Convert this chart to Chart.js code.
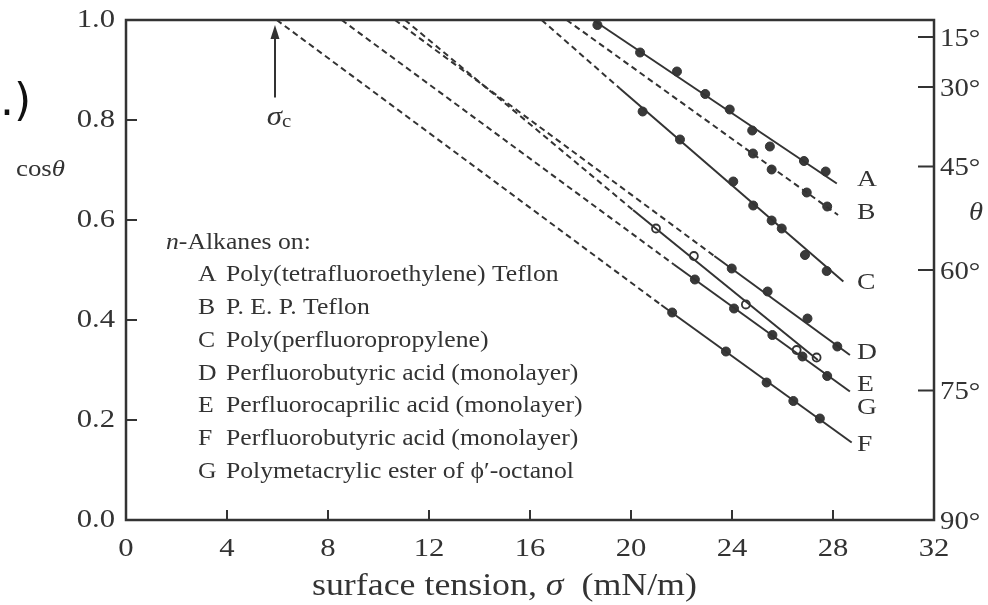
<!DOCTYPE html>
<html><head><meta charset="utf-8">
<script src="https://cdn.jsdelivr.net/npm/chart.js@4.4.1/dist/chart.umd.min.js"></script>
<style>html,body{margin:0;padding:0;background:#fff;overflow:hidden}#wrap{width:988px;height:605px}</style>
</head><body><div id="wrap"><canvas id="c" width="988" height="605"></canvas></div>
<script>
// ---------- data ----------
const sigmaTicks = [0, 4, 8, 12, 16, 20, 24, 28, 32];
const cosTicks = [0.0, 0.2, 0.4, 0.6, 0.8, 1.0];
const thetaTicks = [15, 30, 45, 60, 75, 90];
const seriesLetters = ['A', 'B', 'C', 'D', 'E', 'F', 'G'];
const legendNames = [
  'Poly(tetrafluoroethylene) Teflon',
  'P. E. P. Teflon',
  'Poly(perfluoropropylene)',
  'Perfluorobutyric acid (monolayer)',
  'Perfluorocaprilic acid (monolayer)',
  'Perfluorobutyric acid (monolayer)',
  'Polymetacrylic ester of \u03D5\u2032-octanol'
];
// measured points (surface tension mN/m, cos theta)
const aSigma = [18.67, 20.36, 21.82, 22.94, 23.91, 24.80, 25.50, 26.85, 27.71];
const aCos   = [0.990, 0.935, 0.897, 0.852, 0.821, 0.779, 0.747, 0.718, 0.697];
const bSigma = [24.83, 25.57, 26.96, 27.77];
const bCos   = [0.733, 0.701, 0.655, 0.627];
const cSigma = [20.46, 21.94, 24.05, 24.84, 25.57, 25.97, 26.89, 27.75];
const cCos   = [0.817, 0.761, 0.677, 0.629, 0.599, 0.583, 0.530, 0.498];
const dSigma = [23.99, 25.41, 26.99, 28.17];
const dCos   = [0.503, 0.457, 0.403, 0.347];
const eSigma = [22.53, 24.08, 25.60, 26.79, 27.77];
const eCos   = [0.481, 0.423, 0.370, 0.327, 0.288];
const fSigma = [21.63, 23.76, 25.37, 26.43, 27.48];
const fCos   = [0.415, 0.337, 0.275, 0.238, 0.203];
const gSigma = [20.99, 22.49, 24.55, 26.56, 27.35];
const gCos   = [0.583, 0.528, 0.431, 0.340, 0.325];
// fitted lines: dashed extrapolation to cos=1 (sigma_c), solid part start and end
const lineSigmaC      = [null, 17.45, 16.46, 10.65, 8.54, 5.97, 11.05];
const solidStartSigma = [18.5, null, 19.56, 23.3, 21.7, 21.2, 20.08];
const solidStartCos   = [1.0,  null, 0.863, 0.528, 0.511, 0.43, 0.62];
const lineEndSigma    = [28.15, 28.2, 28.41, 28.67, 28.67, 28.74, 27.4];
const lineEndCos      = [0.673, 0.61, 0.477, 0.33, 0.257, 0.155, 0.32];
const endLabelCos     = [0.68, 0.614, 0.474, 0.334, 0.27, 0.15, 0.224];
const sigmaCArrow = 5.9;

// ---------- build datasets ----------
const INK = '#333';
const pts = [[aSigma,aCos],[bSigma,bCos],[cSigma,cCos],[dSigma,dCos],[eSigma,eCos],[fSigma,fCos],[gSigma,gCos]];
const datasets = [];
for (let i = 0; i < 7; i++) {
  if (lineSigmaC[i] !== null) {
    const ex = solidStartSigma[i] !== null ? solidStartSigma[i] : lineEndSigma[i];
    const ey = solidStartSigma[i] !== null ? solidStartCos[i] : lineEndCos[i];
    datasets.push({type:'scatter', showLine:true, data:[{x:lineSigmaC[i],y:1.0},{x:ex,y:ey}],
      borderColor:INK, borderWidth:2, borderDash:[6,4], pointRadius:0, clip:false});
  }
  if (solidStartSigma[i] !== null) {
    datasets.push({type:'scatter', showLine:true, data:[{x:solidStartSigma[i],y:solidStartCos[i]},{x:lineEndSigma[i],y:lineEndCos[i]}],
      borderColor:INK, borderWidth:2, pointRadius:0, clip:false});
  }
}
for (let i = 0; i < 7; i++) {
  const open = seriesLetters[i] === 'G';
  datasets.push({type:'scatter', data: pts[i][0].map((s,k)=>({x:s,y:pts[i][1][k]})),
    pointRadius: open ? 4 : 4.5, pointBackgroundColor: open ? '#fff' : '#3a3a3a',
    pointBorderColor:'#333', pointBorderWidth: open ? 1.8 : 1, clip:false});
}

// ---------- text helper ----------
const SERIF = '"Liberation Serif", "Times New Roman", serif';
function measure(ctx, s, font, sx){ ctx.save(); ctx.font = font; const w = ctx.measureText(s).width*sx; ctx.restore(); return w; }
function txt(ctx, s, x, y, font, align, sx, color){
  ctx.save(); ctx.font = font; ctx.textBaseline = 'middle'; ctx.textAlign = 'left';
  ctx.fillStyle = color || INK;
  const w = ctx.measureText(s).width*sx;
  const x0 = align === 'center' ? x - w/2 : (align === 'right' ? x - w : x);
  ctx.translate(x0, y); ctx.scale(sx, 1); ctx.fillText(s, 0, 0); ctx.restore();
  return w;
}
function rich(ctx, parts, x, y, align){
  let total = 0; parts.forEach(p => total += measure(ctx, p[0], p[1], p[2]));
  let cx = align === 'center' ? x - total/2 : (align === 'right' ? x - total : x);
  parts.forEach(p => { cx += txt(ctx, p[0], cx, y + (p[3]||0), p[1], 'left', p[2]); });
}

const decor = {
  id:'decor',
  beforeDatasetsDraw(chart){
    const {ctx, chartArea:a, scales} = chart;
    ctx.save();
    ctx.strokeStyle = INK; ctx.lineWidth = 2.5;
    ctx.strokeRect(a.left, a.top, a.right - a.left, a.bottom - a.top);
    ctx.lineWidth = 2;
    ctx.beginPath();
    sigmaTicks.forEach(v => { if (v > 0 && v < 32) { const x = scales.x.getPixelForValue(v); ctx.moveTo(x, a.bottom); ctx.lineTo(x, a.bottom - 10); }});
    cosTicks.forEach(v => { if (v > 0 && v < 1) { const y = scales.y.getPixelForValue(v); ctx.moveTo(a.left, y); ctx.lineTo(a.left + 11, y); }});
    thetaTicks.forEach(d => { if (d < 90) { const y = scales.y2.getPixelForValue(Math.cos(d*Math.PI/180)); ctx.moveTo(a.right, y); ctx.lineTo(a.right - 16, y); }});
    ctx.stroke();
    ctx.restore();
  },
  afterDraw(chart){
    const {ctx, chartArea:a, scales} = chart;
    const num = '26px ' + SERIF;
    sigmaTicks.forEach(v => txt(ctx, String(v), scales.x.getPixelForValue(v), a.bottom + 29, num, 'center', 1.18));
    cosTicks.forEach(v => txt(ctx, v.toFixed(1), a.left - 11, scales.y.getPixelForValue(v), num, 'right', 1.18));
    thetaTicks.forEach(d => txt(ctx, d + '\u00B0', a.right + 6, scales.y2.getPixelForValue(Math.cos(d*Math.PI/180)) + 2, '25px ' + SERIF, 'left', 1.15));
    // axis titles
    rich(ctx, [['surface tension, ', '32px ' + SERIF, 1.12], ['\u03C3', 'italic 32px ' + SERIF, 1.12], ['  (mN/m)', '32px ' + SERIF, 1.12]], 312, a.bottom + 67, 'left');
    rich(ctx, [['cos', '24px ' + SERIF, 1.12], ['\u03B8', 'italic 24px ' + SERIF, 1.12]], 16, 170, 'left');
    txt(ctx, '\u03B8', 976, 213, 'italic 26px ' + SERIF, 'center', 1.1);
    // sigma_c arrow
    const ax = scales.x.getPixelForValue(sigmaCArrow);
    const yTip = scales.y.getPixelForValue(0.99), yTail = scales.y.getPixelForValue(0.845);
    ctx.save(); ctx.strokeStyle = INK; ctx.fillStyle = INK; ctx.lineWidth = 2;
    ctx.beginPath(); ctx.moveTo(ax, yTail); ctx.lineTo(ax, yTip + 10); ctx.stroke();
    ctx.beginPath(); ctx.moveTo(ax, yTip); ctx.lineTo(ax - 4.5, yTip + 14); ctx.lineTo(ax + 4.5, yTip + 14); ctx.closePath(); ctx.fill();
    ctx.restore();
    rich(ctx, [['\u03C3', 'italic 28px ' + SERIF, 1.1], ['c', '19px ' + SERIF, 1.1, 5]], ax + 4, scales.y.getPixelForValue(0.805), 'center');
    // end labels
    seriesLetters.forEach((L, i) => txt(ctx, L, 857, scales.y.getPixelForValue(endLabelCos[i]), '24px ' + SERIF, 'left', 1.15));
    // legend block
    const lf = '24px ' + SERIF;
    rich(ctx, [['n', 'italic 24px ' + SERIF, 1.07], ['-Alkanes on:', lf, 1.07]], 166, 243, 'left');
    seriesLetters.forEach((L, i) => {
      const y = 275 + i*32.8;
      txt(ctx, L, 198, y, lf, 'left', 1.07);
      txt(ctx, legendNames[i], 226, y, lf, 'left', 1.07);
    });
    // fragment of a panel label at the left edge
    txt(ctx, '.)', 0, 104, '44px "DejaVu Sans", sans-serif', 'left', 1.0, '#111');
  }
};

new Chart(document.getElementById('c'), {
  type:'scatter',
  data:{datasets},
  options:{
    responsive:false, animation:false, devicePixelRatio:1,
    layout:{padding:{top:20, left:0, right:0, bottom:0}},
    plugins:{legend:{display:false}, tooltip:{enabled:false}},
    scales:{
      x:{type:'linear', min:0, max:32, grid:{display:false}, border:{display:false}, ticks:{display:false},
         afterBuildTicks:s=>{s.ticks = sigmaTicks.map(v=>({value:v}));}, afterFit:s=>{s.height = 85;}},
      y:{type:'linear', position:'left', min:0, max:1, grid:{display:false}, border:{display:false}, ticks:{display:false},
         afterBuildTicks:s=>{s.ticks = cosTicks.map(v=>({value:v}));}, afterFit:s=>{s.width = 126;}},
      y2:{type:'linear', position:'right', min:0, max:1, grid:{display:false}, border:{display:false}, ticks:{display:false},
         afterBuildTicks:s=>{s.ticks = thetaTicks.map(d=>({value:Math.cos(d*Math.PI/180)}));}, afterFit:s=>{s.width = 54;}}
    }
  },
  plugins:[decor]
});
</script></body></html>
